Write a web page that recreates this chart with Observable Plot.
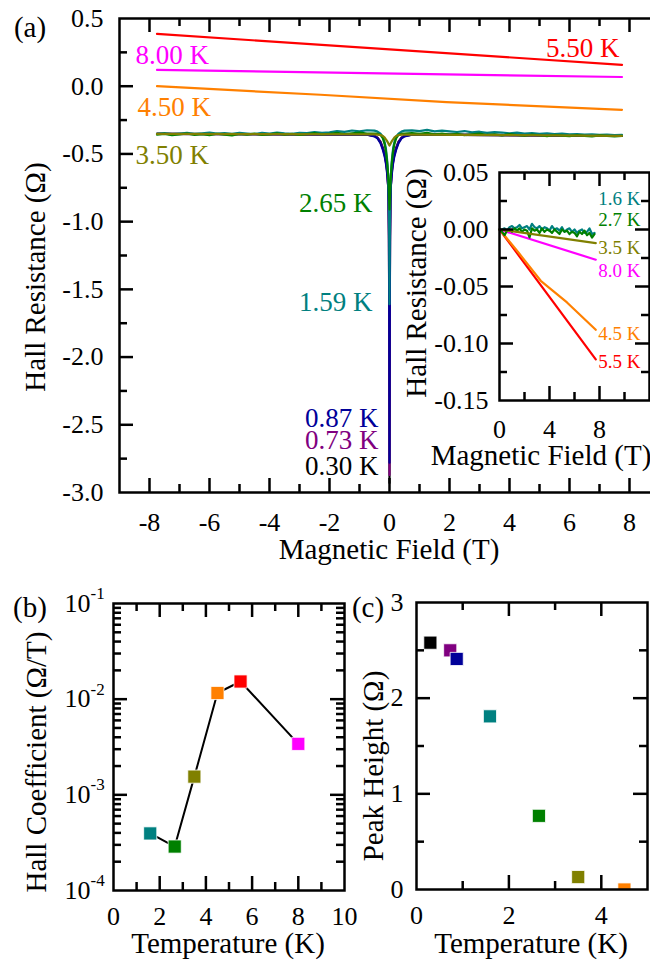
<!DOCTYPE html>
<html>
<head>
<meta charset="utf-8">
<script src="https://cdn.jsdelivr.net/npm/d3@7"></script>
<script src="https://cdn.jsdelivr.net/npm/@observablehq/plot@0.6"></script>
<style>
  html, body { margin: 0; padding: 0; background: #fff; }
  #fig { position: relative; width: 650px; height: 964px; overflow: hidden;
         font-family: "Liberation Serif", "Times New Roman", serif; color: #000; }
  #fig svg { position: absolute; }
  .t { position: absolute; font-size: 29px; line-height: 1; white-space: nowrap;
       transform: translate(-50%, -50%); }
  .t.v { transform: translate(-50%, -50%) rotate(-90deg); }
</style>
</head>
<body>
<div id="fig"></div>
<script>
// ---------- Panel (a): Hall resistance vs magnetic field ----------
// field grid for the flat parts of the noisy curves (T)
const fieldBase = [-7.75,-7.5,-7.25,-7,-6.75,-6.5,-6.25,-6,-5.75,-5.5,-5.25,-5,-4.75,-4.5,-4.25,-4,-3.75,-3.5,-3.25,-3,-2.75,-2.5,-2.25,-2,-1.75,-1.5,-1.25,-1,-0.75,
                   0.75,1,1.25,1.5,1.75,2,2.25,2.5,2.75,3,3.25,3.5,3.75,4,4.25,4.5,4.75,5,5.25,5.5,5.75,6,6.25,6.5,6.75,7,7.25,7.5,7.75];
// field grid through the zero-field dip (T)
const fieldDip = [-0.5,-0.4,-0.3,-0.22,-0.16,-0.12,-0.09,-0.065,-0.045,-0.03,-0.018,-0.008,0,0.008,0.018,0.03,0.045,0.065,0.09,0.12,0.16,0.22,0.3,0.4,0.5];
const fieldEnds = [-7.75, -0.75, 0.75, 7.75];
const fieldLine = [-7.75, 7.75];
const fieldOrange = [-7.75, -2.3, 1.9, 7.75];

const teal159Base = [-0.352,-0.347,-0.354,-0.349,-0.345,-0.352,-0.348,-0.343,-0.350,-0.346,-0.352,-0.344,-0.349,-0.353,-0.345,-0.350,-0.342,-0.348,-0.352,-0.344,-0.347,-0.339,-0.345,-0.340,-0.332,-0.337,-0.327,-0.333,-0.325,
                     -0.326,-0.331,-0.322,-0.334,-0.328,-0.333,-0.338,-0.331,-0.341,-0.336,-0.344,-0.339,-0.342,-0.348,-0.343,-0.350,-0.346,-0.351,-0.348,-0.354,-0.350,-0.355,-0.353,-0.357,-0.355,-0.359,-0.357,-0.361,-0.360];
const teal159Dip = [-0.328,-0.335,-0.350,-0.375,-0.415,-0.460,-0.520,-0.580,-0.660,-0.760,-0.900,-1.150,-1.610,-1.150,-0.900,-0.760,-0.660,-0.580,-0.520,-0.460,-0.415,-0.375,-0.350,-0.335,-0.328];

const green265Base = [-0.358,-0.352,-0.361,-0.355,-0.349,-0.359,-0.354,-0.362,-0.351,-0.357,-0.363,-0.353,-0.358,-0.350,-0.360,-0.355,-0.348,-0.357,-0.352,-0.360,-0.354,-0.347,-0.356,-0.351,-0.345,-0.353,-0.348,-0.343,-0.350,
                      -0.347,-0.352,-0.345,-0.356,-0.350,-0.358,-0.352,-0.361,-0.355,-0.349,-0.360,-0.356,-0.363,-0.354,-0.360,-0.366,-0.358,-0.362,-0.368,-0.360,-0.365,-0.369,-0.361,-0.366,-0.370,-0.363,-0.367,-0.371,-0.366];
const green265Dip = [-0.350,-0.352,-0.360,-0.385,-0.430,-0.480,-0.540,-0.600,-0.660,-0.720,-0.790,-0.860,-0.910,-0.860,-0.790,-0.720,-0.660,-0.600,-0.540,-0.480,-0.430,-0.385,-0.360,-0.352,-0.350];

const olive350Base = [-0.352, -0.356, -0.358, -0.366];
const olive350Dip = [-0.356,-0.357,-0.360,-0.368,-0.380,-0.392,-0.402,-0.411,-0.419,-0.426,-0.431,-0.435,-0.438,-0.435,-0.431,-0.426,-0.419,-0.411,-0.402,-0.392,-0.380,-0.368,-0.360,-0.357,-0.358];

const blue087Base = [-0.352, -0.358, -0.358, -0.366];
const blue087Dip = [-0.370,-0.385,-0.420,-0.470,-0.520,-0.570,-0.620,-0.680,-0.740,-0.850,-1.100,-1.700,-2.780,-1.700,-1.100,-0.850,-0.740,-0.680,-0.620,-0.570,-0.520,-0.470,-0.420,-0.385,-0.370];

const purple073Base = [-0.352, -0.358, -0.358, -0.366];
const purple073Dip = [-0.368,-0.382,-0.415,-0.462,-0.510,-0.560,-0.610,-0.670,-0.735,-0.850,-1.120,-1.750,-2.870,-1.750,-1.120,-0.850,-0.735,-0.670,-0.610,-0.560,-0.510,-0.462,-0.415,-0.382,-0.368];

const black030Base = [-0.352, -0.358, -0.358, -0.366];
const black030Dip = [-0.366,-0.380,-0.410,-0.455,-0.500,-0.550,-0.600,-0.660,-0.730,-0.850,-1.150,-1.800,-2.930,-1.800,-1.150,-0.850,-0.730,-0.660,-0.600,-0.550,-0.500,-0.455,-0.410,-0.380,-0.366];

const red550 = [0.386, 0.158];
const magenta800 = [0.120, 0.068];
const orange450 = [0.000, -0.063, -0.118, -0.174];

const mainXTicks = [-8, -6, -4, -2, 0, 2, 4, 6, 8];
const mainXMinor = [-7, -5, -3, -1, 1, 3, 5, 7];
const mainYTicks = [-3, -2.5, -2, -1.5, -1, -0.5, 0, 0.5];
const mainYMinor = [-2.75, -2.25, -1.75, -1.25, -0.75, -0.25, 0.25];

// ---------- Inset: low-field Hall resistance ----------
const insetField = [0,0.2,0.4,0.6,0.8,1,1.2,1.4,1.6,1.8,2,2.2,2.4,2.6,2.8,3,3.2,3.4,3.6,3.8,4,4.2,4.4,4.6,4.8,5,5.2,5.4,5.6,5.8,6,6.2,6.4,6.6,6.8,7,7.2,7.4,7.6];
const insetTeal16 = [0.000,0.000,0.001,-0.001,0.002,0.003,0.001,0.002,0.004,0.001,0.002,0.003,0.000,0.005,0.002,0.001,0.003,0.000,0.002,0.001,-0.001,0.003,0.000,0.001,-0.001,0.002,-0.002,0.000,0.001,-0.002,0.000,-0.003,-0.001,0.000,-0.003,-0.002,0.001,-0.004,-0.003];
const insetGreen27 = [0.000,-0.002,-0.005,-0.001,0.000,-0.002,0.001,-0.001,0.001,-0.002,0.000,-0.001,-0.007,0.001,-0.001,0.000,-0.003,0.001,-0.002,0.000,-0.001,-0.003,0.000,-0.002,-0.004,0.000,-0.002,-0.001,-0.004,-0.002,-0.003,-0.006,-0.002,-0.004,-0.001,-0.005,-0.003,-0.007,-0.004];
const insetEnds = [0, 7.7];
const insetOlive35 = [0, -0.012];
const insetMagenta80 = [0, -0.0265];
const insetRed55 = [0, -0.114];
const insetOrangeField = [0, 1.5, 3.3, 5.4, 7.7];
const insetOrange45 = [0, -0.020, -0.045, -0.064, -0.088];

const insetXTicks = [0, 4, 8];
const insetYTicks = [-0.15, -0.1, -0.05, 0, 0.05];

// ---------- Panel (b): Hall coefficient vs temperature ----------
const hallTemp = [1.59, 2.65, 3.50, 4.50, 5.50, 8.00];
const hallCoef = [3.95e-4, 2.88e-4, 1.55e-3, 1.16e-2, 1.53e-2, 3.41e-3];
const hallColor = ["#008080", "#008000", "#808000", "#ff8000", "#ff0000", "#ff00ff"];
const hallDecades = [1e-4, 1e-3, 1e-2, 1e-1];

// ---------- Panel (c): peak height vs temperature ----------
const peakTemp = [0.30, 0.73, 0.87, 1.59, 2.65, 3.50, 4.50];
const peakHeight = [2.58, 2.50, 2.41, 1.81, 0.77, 0.13, 0.00];
const peakColor = ["#000000", "#800080", "#000099", "#008080", "#008000", "#808000", "#ff8000"];

// colours per temperature
const colors = {
  "0.30 K": "#000000", "0.73 K": "#800080", "0.87 K": "#000099", "1.59 K": "#008080",
  "2.65 K": "#008000", "3.50 K": "#808000", "4.50 K": "#ff8000", "5.50 K": "#ff0000", "8.00 K": "#ff00ff"
};

// assemble a curve from one or more (field, value) array pairs
function curve(label, ...parts) {
  const pts = [];
  for (const [xs, ys] of parts) xs.forEach((b, i) => pts.push({B: b, R: ys[i], T: label}));
  return pts.sort((a, b) => a.B - b.B);
}

const mainCurves = [
  curve("0.30 K", [fieldEnds, black030Base], [fieldDip, black030Dip]),
  curve("0.73 K", [fieldEnds, purple073Base], [fieldDip, purple073Dip]),
  curve("0.87 K", [fieldEnds, blue087Base], [fieldDip, blue087Dip]),
  curve("1.59 K", [fieldBase, teal159Base], [fieldDip, teal159Dip]),
  curve("2.65 K", [fieldBase, green265Base], [fieldDip, green265Dip]),
  curve("3.50 K", [fieldEnds, olive350Base], [fieldDip, olive350Dip]),
  curve("4.50 K", [fieldOrange, orange450]),
  curve("8.00 K", [fieldLine, magenta800]),
  curve("5.50 K", [fieldLine, red550])
];

const insetCurves = [
  {c: "#ff0000", d: curve("5.5 K", [insetEnds, insetRed55])},
  {c: "#ff8000", d: curve("4.5 K", [insetOrangeField, insetOrange45])},
  {c: "#ff00ff", d: curve("8.0 K", [insetEnds, insetMagenta80])},
  {c: "#008080", d: curve("1.6 K", [insetField, insetTeal16])},
  {c: "#008000", d: curve("2.7 K", [insetField, insetGreen27])},
  {c: "#808000", d: curve("3.5 K", [insetEnds, insetOlive35])}
];

// label placement (data coordinates of each annotation)
const mainLabelsStart = [
  {T: "8.00 K", B: -8.47, R: 0.227},
  {T: "4.50 K", B: -8.40, R: -0.157},
  {T: "3.50 K", B: -8.47, R: -0.512}
];
const mainLabelsEnd = [
  {T: "5.50 K", B: 7.67, R: 0.278},
  {T: "2.65 K", B: -0.57, R: -0.866},
  {T: "1.59 K", B: -0.57, R: -1.597},
  {T: "0.87 K", B: -0.37, R: -2.455},
  {T: "0.73 K", B: -0.37, R: -2.612},
  {T: "0.30 K", B: -0.37, R: -2.810}
];
const insetLabels = [
  {T: "1.6 K", c: "#008080", R: 0.0272},
  {T: "2.7 K", c: "#008000", R: 0.0088},
  {T: "3.5 K", c: "#808000", R: -0.0158},
  {T: "8.0 K", c: "#ff00ff", R: -0.0360},
  {T: "4.5 K", c: "#ff8000", R: -0.0912},
  {T: "5.5 K", c: "#ff0000", R: -0.1158}
];

// ---------- drawing helpers ----------
const fig = document.getElementById("fig");
const FONT = '"Liberation Serif", "Times New Roman", serif';
const baseStyle = {fontFamily: FONT, fontSize: "26px", background: "transparent", maxWidth: "none", overflow: "visible", color: "#000"};
const MAJ = 14, MIN = 8, SW = 2.5;

function place(svg, left, top) {
  svg.style.left = left + "px";
  svg.style.top = top + "px";
  fig.appendChild(svg);
}

// inward-pointing frame ticks
function edgeTicks({fw, fh, xMajor = [], xMinor = [], yMajor = [], yMinor = [], right = true}) {
  const marks = [];
  for (const [vals, len] of [[xMajor, MAJ], [xMinor, MIN]]) {
    marks.push(Plot.ruleX(vals, {x: d => d, insetTop: fh - len, strokeWidth: SW}));
    marks.push(Plot.ruleX(vals, {x: d => d, insetBottom: fh - len, strokeWidth: SW}));
  }
  for (const [vals, len] of [[yMajor, MAJ], [yMinor, MIN]]) {
    marks.push(Plot.ruleY(vals, {y: d => d, insetRight: fw - len, strokeWidth: SW}));
    if (right) marks.push(Plot.ruleY(vals, {y: d => d, insetLeft: fw - len, strokeWidth: SW}));
  }
  return marks;
}

function title(text, cx, cy, vertical = false) {
  const el = document.createElement("div");
  el.className = vertical ? "t v" : "t";
  el.textContent = text;
  el.style.left = cx + "px";
  el.style.top = cy + "px";
  fig.appendChild(el);
}

// ---------- panel (a) ----------
const mainPlot = Plot.plot({
  width: 660, height: 540,
  marginLeft: 119, marginRight: 1, marginTop: 18, marginBottom: 48,
  x: {domain: [-9, 9], ticks: mainXTicks, tickFormat: d => String(d), tickSize: 0, tickPadding: 20, label: null},
  y: {domain: [-3, 0.5], ticks: mainYTicks, tickFormat: d => d.toFixed(1), tickSize: 0, tickPadding: 16, label: null},
  color: {type: "identity"},
  style: baseStyle,
  marks: [
    ...mainCurves.map(c => Plot.line(c, {x: "B", y: "R", stroke: colors[c[0].T], strokeWidth: 2.2})),
    Plot.text(mainLabelsStart, {x: "B", y: "R", text: "T", fill: d => colors[d.T], textAnchor: "start", fontSize: 27}),
    Plot.text(mainLabelsEnd, {x: "B", y: "R", text: "T", fill: d => colors[d.T], textAnchor: "end", fontSize: 27}),
    ...edgeTicks({fw: 540, fh: 474, xMajor: mainXTicks, xMinor: mainXMinor,
                  yMajor: [-2.5, -2, -1.5, -1, -0.5, 0], yMinor: mainYMinor, right: false}),
    Plot.frame({strokeWidth: SW})
  ]
});
place(mainPlot, 0, 0);

// ---------- inset ----------
const insetPlot = Plot.plot({
  width: 650, height: 440,
  marginLeft: 499, marginRight: 1, marginTop: 172, marginBottom: 40,
  x: {domain: [0, 12], ticks: insetXTicks, tickFormat: d => String(d), tickSize: 0, tickPadding: 19, label: null},
  y: {domain: [-0.15, 0.05], ticks: insetYTicks, tickFormat: d => d.toFixed(2), tickSize: 0, tickPadding: 11, label: null},
  color: {type: "identity"},
  style: baseStyle,
  marks: [
    ...insetCurves.map(({c, d}) => Plot.line(d, {x: "B", y: "R", stroke: c, strokeWidth: 2.2})),
    Plot.text(insetLabels, {x: () => 7.9, y: "R", text: "T", fill: "c", textAnchor: "start", fontSize: 19}),
    ...edgeTicks({fw: 150, fh: 228, xMajor: [4, 8], xMinor: [2, 6, 10],
                  yMajor: [-0.1, -0.05, 0], yMinor: [-0.125, -0.075, -0.025, 0.025]}),
    Plot.frame({strokeWidth: SW})
  ]
});
place(insetPlot, 0, 0);

// ---------- panel (b) ----------
const hallPoints = hallTemp.map((t, i) => ({T: t, K: hallCoef[i], c: hallColor[i]}));
const logMinor = [2,3,4,5,6,7,8,9].flatMap(k => [k * 1e-4, k * 1e-3, k * 1e-2]);
const bPlot = Plot.plot({
  width: 360, height: 400,
  marginLeft: 113, marginRight: 16, marginTop: 43, marginBottom: 70,
  x: {domain: [0, 10], ticks: [0, 2, 4, 6, 8, 10], tickFormat: d => String(d), tickSize: 0, tickPadding: 16, label: null},
  y: {type: "log", domain: [1e-4, 1e-1], axis: null},
  color: {type: "identity"},
  style: baseStyle,
  marks: [
    Plot.line(hallPoints, {x: "T", y: "K", stroke: "#000", strokeWidth: 2}),
    Plot.dot(hallPoints, {x: "T", y: "K", symbol: "square", r: 7.4, fill: "c", stroke: "#fff", strokeWidth: 0.8}),
    Plot.text(hallDecades, {y: d => d, frameAnchor: "left", text: () => "10", textAnchor: "end", dx: -23, fontSize: 26}),
    Plot.text(hallDecades, {y: d => d, frameAnchor: "left", text: d => "-" + Math.round(-Math.log10(d)), textAnchor: "start", dx: -23, dy: -10, fontSize: 17}),
    ...edgeTicks({fw: 231, fh: 287, xMajor: [2, 4, 6, 8], xMinor: [1, 3, 5, 7, 9],
                  yMajor: [1e-3, 1e-2], yMinor: logMinor}),
    Plot.frame({strokeWidth: SW})
  ]
});
place(bPlot, 0, 560);

// ---------- panel (c) ----------
const peakPoints = peakTemp.map((t, i) => ({T: t, H: peakHeight[i], c: peakColor[i]}));
const cPlot = Plot.plot({
  width: 320, height: 400,
  marginLeft: 86, marginRight: 3, marginTop: 42, marginBottom: 71,
  x: {domain: [0, 5], ticks: [0, 2, 4], tickFormat: d => String(d), tickSize: 0, tickPadding: 16, label: null},
  y: {domain: [0, 3], ticks: [0, 1, 2, 3], tickFormat: d => String(d), tickSize: 0, tickPadding: 13, label: null},
  color: {type: "identity"},
  style: baseStyle,
  marks: [
    Plot.dot(peakPoints, {x: "T", y: "H", symbol: "square", r: 7.4, fill: "c", stroke: "#fff", strokeWidth: 0.8, clip: true}),
    ...edgeTicks({fw: 231, fh: 287, xMajor: [2, 4], xMinor: [1, 3],
                  yMajor: [1, 2], yMinor: [0.5, 1.5, 2.5]}),
    Plot.frame({strokeWidth: SW})
  ]
});
place(cPlot, 330, 560);

// ---------- titles and panel letters ----------
title("(a)", 30, 27);
title("Hall Resistance (\u03A9)", 35, 277, true);
title("Magnetic Field (T)", 389, 549);
title("Hall Resistance (\u03A9)", 416, 283, true);
title("Magnetic Field (T)", 541, 455);
title("(b)", 30, 607);
title("Hall Coefficient (\u03A9/T)", 36, 762, true);
title("Temperature (K)", 228, 943);
title("(c)", 368, 607);
title("Peak Height (\u03A9)", 373, 766, true);
title("Temperature (K)", 531, 943);
</script>
</body>
</html>
